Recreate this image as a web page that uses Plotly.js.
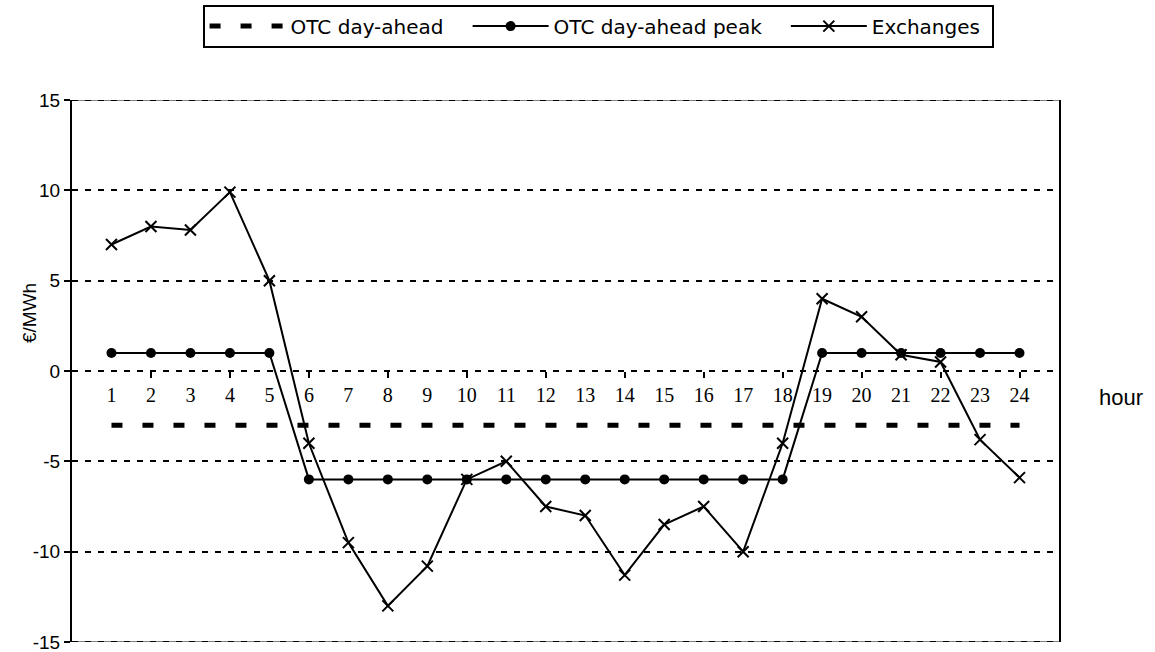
<!DOCTYPE html>
<html>
<head>
<meta charset="utf-8">
<script src="https://cdn.plot.ly/plotly-3.0.1.min.js"></script>
<style>html,body{margin:0;padding:0;background:#fff}#chart{width:1155px;height:652px}</style>
</head>
<body>
<div id="chart"></div>
<script>
const hours = [1,2,3,4,5,6,7,8,9,10,11,12,13,14,15,16,17,18,19,20,21,22,23,24];
const otcDayAhead = [-3,-3,-3,-3,-3,-3,-3,-3,-3,-3,-3,-3,-3,-3,-3,-3,-3,-3,-3,-3,-3,-3,-3,-3];
const otcDayAheadPeak = [1,1,1,1,1,-6,-6,-6,-6,-6,-6,-6,-6,-6,-6,-6,-6,-6,1,1,1,1,1,1];
const exchanges = [7.0,8.0,7.8,9.9,5.0,-4.0,-9.5,-13.0,-10.8,-6.0,-5.0,-7.5,-8.0,-11.3,-8.5,-7.5,-10.0,-4.0,4.0,3.0,0.9,0.5,-3.8,-5.9];
const seriesNames = ['OTC day-ahead','OTC day-ahead peak','Exchanges'];
const yTicks = [-15,-10,-5,0,5,10,15];
const yTickText = ['-15','-10','-5','0','5','10','15'];
const xTickText = hours.map(String);
const evenHours = hours.filter(h => h % 2 === 0);
const yMin = yTicks[0], yMax = yTicks[yTicks.length - 1];

const NB = '\u00a0';
const traces = [
  {x: hours, y: otcDayAhead, name: seriesNames[0] + NB + NB + NB, type: 'scatter', mode: 'lines',
   line: {color: '#000', width: 5, dash: '11px,20px'}},
  {x: hours, y: otcDayAheadPeak, name: seriesNames[1] + NB + NB + NB, type: 'scatter', mode: 'lines+markers',
   line: {color: '#000', width: 2}, marker: {symbol: 'circle', size: 10, color: '#000'}},
  {x: hours, y: exchanges, name: seriesNames[2] + NB, type: 'scatter', mode: 'lines+markers',
   line: {color: '#000', width: 2}, marker: {symbol: 'x-thin', size: 11, color: '#000', line: {color: '#000', width: 2}}},
  {x: evenHours, y: evenHours.map(() => null), xaxis: 'x2', yaxis: 'y', showlegend: false, hoverinfo: 'skip', type: 'scatter', mode: 'lines'}
];

const edgeLine = (yv, color, width, dash) => ({
  type: 'line', xref: 'paper', yref: 'y', x0: 0, x1: 1, y0: yv, y1: yv, layer: 'below',
  line: {color: color, width: width, dash: dash}
});

const layout = {
  width: 1155, height: 652,
  margin: {l: 72, r: 96, t: 100, b: 10, autoexpand: false},
  paper_bgcolor: '#fff', plot_bgcolor: '#fff',
  font: {family: 'Arial, "Liberation Sans", sans-serif', color: '#000'},
  showlegend: true,
  legend: {
    orientation: 'h', x: 0.533, xanchor: 'center', y: 1.176, yanchor: 'top',
    bordercolor: '#000', borderwidth: 2, bgcolor: '#fff',
    font: {family: '"DejaVu Sans", Verdana, sans-serif', size: 20, color: '#000'},
    itemwidth: 76, traceorder: 'normal', tracegroupgap: 0
  },
  xaxis: {
    range: [0, 25], anchor: 'free', position: 0.5,
    tickmode: 'array', tickvals: hours, ticktext: xTickText,
    ticks: 'outside', ticklen: 6, tickcolor: 'rgba(0,0,0,0)',
    tickfont: {family: '"Liberation Serif", "DejaVu Serif", serif', size: 20, color: '#000'},
    showline: false, showgrid: false, zeroline: false, fixedrange: true
  },
  xaxis2: {
    range: [0, 25], overlaying: 'x', anchor: 'free', position: 0.5,
    tickmode: 'array', tickvals: evenHours, showticklabels: false,
    ticks: 'outside', ticklen: 6, tickwidth: 2, tickcolor: '#000',
    showline: false, showgrid: false, zeroline: false, fixedrange: true
  },
  yaxis: {
    range: [yMin, yMax], tickmode: 'array', tickvals: yTicks, ticktext: yTickText,
    ticks: 'outside', ticklen: 6, tickwidth: 2, tickcolor: '#000',
    ticklabeloverflow: 'allow', automargin: false,
    tickfont: {family: 'Arial, "Liberation Sans", sans-serif', size: 19, color: '#000'},
    showline: true, linecolor: '#000', linewidth: 2, mirror: true,
    showgrid: true, gridcolor: '#000', gridwidth: 2, griddash: '6px,7px',
    zeroline: false, fixedrange: true
  },
  shapes: [
    edgeLine(yMax, '#808080', 2, 'solid'), edgeLine(yMax, '#000', 2, '6px,7px'),
    edgeLine(yMin, '#808080', 2, 'solid'), edgeLine(yMin, '#000', 2, '6px,7px')
  ],
  annotations: [
    {text: 'hour', xref: 'paper', yref: 'paper', x: 1, y: 0.5, xanchor: 'left', yanchor: 'middle',
     xshift: 38, yshift: -26, showarrow: false,
     font: {family: 'Arial, "Liberation Sans", sans-serif', size: 22, color: '#000'}},
    {text: '€/MWh', xref: 'paper', yref: 'paper', x: 0, y: 0.5, xanchor: 'center', yanchor: 'middle',
     xshift: -43, yshift: 58, textangle: -90, showarrow: false,
     font: {family: 'Arial, "Liberation Sans", sans-serif', size: 19, color: '#000'}}
  ]
};

Plotly.newPlot('chart', traces, layout, {displayModeBar: false, staticPlot: true});
</script>
</body>
</html>
